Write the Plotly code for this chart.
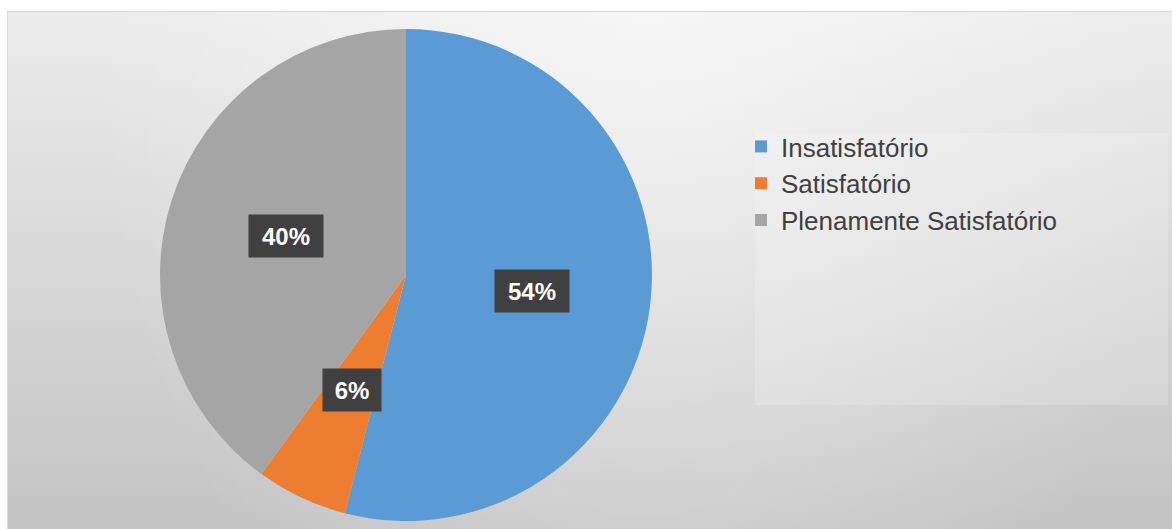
import base64
import math
import plotly.graph_objects as go

# Survey result shares
categories = ["Insatisfatório", "Satisfatório", "Plenamente Satisfatório"]
shares = [54, 6, 40]
slice_colors = ["#5B9BD5", "#ED7D31", "#A5A5A5"]

W, H = 1172, 529

# Pie geometry (pixels)
pie_cx, pie_cy = 406, 275
pie_d = 492

# Chart-area background: vertical grey ramp with a soft light band
bg_x0, bg_y0 = 7, 11
bg_w, bg_h = W - bg_x0, H - bg_y0
svg = f"""<svg xmlns='http://www.w3.org/2000/svg' width='{bg_w}' height='{bg_h}' viewBox='0 0 {bg_w} {bg_h}' preserveAspectRatio='none'>
<defs>
<linearGradient id='v' x1='0' y1='0' x2='0' y2='1'>
<stop offset='0' stop-color='#ececec'/>
<stop offset='1' stop-color='#c3c3c3'/>
</linearGradient>
<radialGradient id='r' gradientUnits='userSpaceOnUse' cx='640' cy='0' r='560' gradientTransform='translate(640 0) scale(1 1.4) translate(-640 0)'>
<stop offset='0' stop-color='#ffffff' stop-opacity='0.55'/>
<stop offset='1' stop-color='#ffffff' stop-opacity='0'/>
</radialGradient>
</defs>
<rect width='{bg_w}' height='{bg_h}' fill='url(#v)'/>
<rect width='{bg_w}' height='{bg_h}' fill='url(#r)'/>
<line x1='0' y1='0.5' x2='{bg_w}' y2='0.5' stroke='#d6d6d6' stroke-width='1'/>
<line x1='0.5' y1='0' x2='0.5' y2='{bg_h}' stroke='#dcdcdc' stroke-width='1'/>
</svg>"""
svg_uri = "data:image/svg+xml;base64," + base64.b64encode(svg.encode()).decode()

# Pie domain in paper coordinates
dom_x = [(pie_cx - pie_d / 2) / W, (pie_cx + pie_d / 2) / W]
dom_y = [1 - (pie_cy + pie_d / 2) / H, 1 - (pie_cy - pie_d / 2) / H]

fig = go.Figure()
fig.add_trace(go.Pie(
    labels=categories,
    values=shares,
    sort=False,
    direction="clockwise",
    rotation=0,
    marker=dict(colors=slice_colors, line=dict(width=0)),
    textinfo="none",
    hoverinfo="label+percent",
    domain=dict(x=dom_x, y=dom_y),
))

# Percentage labels on dark boxes, placed along each slice's mid-angle
total = sum(shares)
annotations = []
cum = 0
for val in shares:
    mid = (cum + val / 2) / total * 2 * math.pi
    cum += val
    r = 0.515 * pie_d / 2
    px = pie_cx + r * math.sin(mid)
    py = pie_cy - r * math.cos(mid)
    annotations.append(dict(
        x=px / W, y=1 - py / H, xref="paper", yref="paper",
        text=f"<b>{round(val / total * 100)}%</b>",
        showarrow=False,
        font=dict(family="Arial, Liberation Sans, sans-serif", size=24, color="#ffffff"),
        bgcolor="#404040",
        width=62 if val >= 10 else 46,
        height=30,
        borderpad=6,
        xanchor="center", yanchor="middle",
    ))

fig.update_layout(
    width=W, height=H,
    margin=dict(l=0, r=0, t=0, b=0),
    paper_bgcolor="#ffffff",
    plot_bgcolor="rgba(0,0,0,0)",
    images=[dict(
        source=svg_uri, xref="paper", yref="paper",
        x=bg_x0 / W, y=1 - bg_y0 / H, sizex=bg_w / W, sizey=bg_h / H,
        xanchor="left", yanchor="top", sizing="stretch", layer="below",
    )],
    shapes=[dict(
        type="rect", xref="paper", yref="paper",
        x0=755 / W, x1=1168 / W, y0=1 - 405 / H, y1=1 - 133 / H,
        fillcolor="rgba(255,255,255,0.18)", line=dict(width=0), layer="below",
    )],
    legend=dict(
        x=741 / W, y=1 - 123 / H, xanchor="left", yanchor="top",
        bgcolor="rgba(0,0,0,0)",
        font=dict(family="Arial, Liberation Sans, sans-serif", size=26, color="#404040"),
        itemwidth=30,
        tracegroupgap=0,
    ),
    annotations=annotations,
    showlegend=True,
)

fig.write_html("out.html")
